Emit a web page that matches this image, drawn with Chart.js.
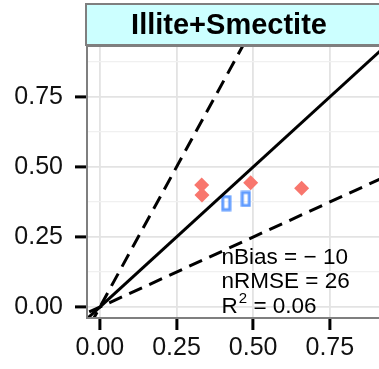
<!DOCTYPE html>
<html>
<head>
<meta charset="utf-8">
<script src="https://cdn.jsdelivr.net/npm/chart.js@4"></script>
<style>
  html, body { margin: 0; padding: 0; background: #fff; overflow: hidden; }
</style>
</head>
<body>
<canvas id="scatterIS" width="395" height="369"></canvas>
<script>
// data
var panelTitle = "Illite+Smectite";
var redX = [0.332, 0.333, 0.492, 0.658];
var redY = [0.436, 0.400, 0.444, 0.424];
var blueX = [0.412, 0.476];
var blueY = [0.371, 0.386];
var majorTicks = [0, 0.25, 0.5, 0.75];
var minorTicks = [0.125, 0.375, 0.625, 0.875];
var lineSlopes = [1, 2, 0.5];
var statLines = ["nBias = \u2212 10", "nRMSE = 26", "R2 = 0.06"];

var allTicks = majorTicks.concat(minorTicks).sort(function (a, b) { return a - b; });
var isMajor = function (v) { return majorTicks.some(function (m) { return Math.abs(m - v) < 1e-9; }); };

function pts(xs, ys) {
    return xs.map(function (x, i) { return { x: x, y: ys[i] }; });
}

// hollow tall rectangle point for the blue series
var rectImg = document.createElement("canvas");
rectImg.width = 11;
rectImg.height = 17;
var rc = rectImg.getContext("2d");
rc.strokeStyle = "#619CFF";
rc.lineWidth = 3;
rc.strokeRect(2, 2, 7, 13);

var lineSets = lineSlopes.map(function (s) {
    return {
        type: "line",
        data: [{ x: -0.1, y: -0.1 * s }, { x: 1.2, y: 1.2 * s }],
        borderColor: "#000",
        borderWidth: 3,
        borderDash: s === 1 ? [] : [14, 8],
        pointRadius: 0,
        fill: false,
        order: 0,
    };
});

function setTicks(scale) {
    scale.ticks = allTicks.map(function (v) { return { value: v }; });
}

var gridOpts = {
    color: function (c) { return isMajor(c.tick.value) ? "#e3e3e3" : "#f0f0f0"; },
    lineWidth: function (c) { return isMajor(c.tick.value) ? 1.8 : 1.2; },
    tickColor: function (c) { return isMajor(c.tick.value) ? "#000" : "rgba(0,0,0,0)"; },
    tickWidth: 3,
    tickLength: 12,
    drawTicks: true,
};

var fontFam = "'Liberation Sans', Arial, sans-serif";

var panelPlugin = {
    id: "panelDeco",
    afterDraw: function (chart) {
        var ctx = chart.ctx;
        var a = chart.chartArea;
        var xs = chart.scales.x, ys = chart.scales.y;
        ctx.save();
        // stats text
        ctx.fillStyle = "#000";
        ctx.font = "22.5px " + fontFam;
        ctx.textAlign = "left";
        ctx.textBaseline = "alphabetic";
        var tx = xs.getPixelForValue(0.397);
        var ty = ys.getPixelForValue(0.154);
        statLines.forEach(function (t, i) {
            var y = ty + i * 24.5;
            if (t.indexOf("R2") === 0) {
                ctx.font = "22.5px " + fontFam;
                ctx.fillText("R", tx, y);
                var w = ctx.measureText("R").width;
                ctx.font = "15px " + fontFam;
                ctx.fillText("2", tx + w + 1, y - 10);
                var w2 = ctx.measureText("2").width;
                ctx.font = "22.5px " + fontFam;
                ctx.fillText(t.slice(2), tx + w + w2 + 1, y);
            } else {
                ctx.fillText(t, tx, y);
            }
        });
        // panel border
        ctx.strokeStyle = "#7f7f7f";
        ctx.lineWidth = 2;
        ctx.strokeRect(a.left, a.top, a.right - a.left, a.bottom - a.top);
        // strip
        ctx.fillStyle = "#ccffff";
        ctx.fillRect(a.left - 1, 4, a.right - a.left + 2, a.top - 5);
        ctx.strokeRect(a.left - 1, 4, a.right - a.left + 2, a.top - 5);
        ctx.fillStyle = "#000";
        ctx.font = "bold 29px " + fontFam;
        ctx.textAlign = "center";
        ctx.textBaseline = "middle";
        ctx.fillText(panelTitle, a.left + 142, (4 + a.top) / 2 + 1);
        ctx.restore();
    },
};

var ctx = document.getElementById("scatterIS").getContext("2d");
var scatterIS = new Chart(ctx, {
    type: "scatter",
    data: {
        datasets: lineSets.concat([
            {
                label: "red",
                data: pts(redX, redY),
                pointStyle: "rectRot",
                pointRadius: 7.5,
                backgroundColor: "#F8766D",
                borderWidth: 0,
                order: 1,
            },
            {
                label: "blue",
                data: pts(blueX, blueY),
                pointStyle: rectImg,
                order: 1,
            },
        ]),
    },
    options: {
        responsive: false,
        animation: false,
        layout: { padding: { left: 0, top: 46, right: 10, bottom: 0 } },
        plugins: { legend: { display: false }, tooltip: { enabled: false } },
        scales: {
            x: {
                type: "linear",
                min: -0.042,
                max: 0.93,
                afterBuildTicks: setTicks,
                afterFit: function (s) { s.height = 51; },
                grid: gridOpts,
                border: { display: false },
                ticks: {
                    color: "#111",
                    padding: 3,
                    font: { family: fontFam, size: 25 },
                    maxRotation: 0,
                    callback: function (v) { return isMajor(v) ? v.toFixed(2) : ""; },
                },
            },
            y: {
                type: "linear",
                min: -0.039,
                max: 0.932,
                afterBuildTicks: setTicks,
                afterFit: function (s) { s.width = 87; },
                grid: gridOpts,
                border: { display: false },
                ticks: {
                    color: "#111",
                    padding: 12,
                    font: { family: fontFam, size: 25 },
                    callback: function (v) { return isMajor(v) ? v.toFixed(2) : ""; },
                },
            },
        },
    },
    plugins: [panelPlugin],
});
</script>
</body>
</html>
